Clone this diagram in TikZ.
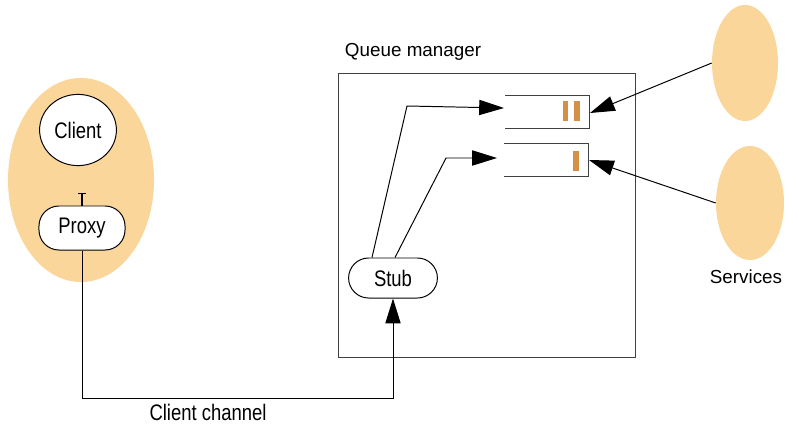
\documentclass[tikz,border=0pt]{standalone}
\usepackage{fontspec}
\setmainfont{Liberation Sans}
\newfontfamily\condfont[FakeStretch=0.82]{Liberation Sans}
\usepackage{xcolor}
\usepackage{tikz}
\usetikzlibrary{shapes,arrows.meta,positioning,calc}
\definecolor{peach}{RGB}{250,214,155}
\definecolor{qmark}{RGB}{212,145,70}

\begin{document}
\begin{tikzpicture}[x=0.025cm,y=-0.025cm,
    blob/.style={ellipse,fill=peach,draw=none,inner sep=0pt},
    pill/.style={draw,fill=white,line width=0.7pt,rounded corners=0.5cm,inner sep=0pt,font=\condfont\fontsize{16}{19}\selectfont},
    wire/.style={line width=0.7pt},
    bigarrow/.style={wire,-{Triangle[length=0.62cm,width=0.38cm]}},
    tag/.style={font=\fontsize{13.4}{16}\selectfont}]
    \useasboundingbox (0,0) rectangle (799,439);
    \node[blob,minimum width=3.65cm,minimum height=5.1cm] (user) at (81,180) {};
    \node[ellipse,draw,fill=white,line width=0.7pt,minimum width=1.92cm,minimum height=1.78cm,inner sep=0pt,font=\condfont\fontsize{16}{19}\selectfont] (client) at (78,130) {Client};
    \node[pill,minimum width=2.15cm,minimum height=1.1cm] (proxy) at (82,228) {Proxy};
    \coordinate (tbar) at ($(proxy.north)+(0,-13)$);
    \draw[line width=1pt,{Bar[width=0.2cm]}-] (tbar) -- (proxy.north);
    \node[draw=black!75,line width=0.7pt,minimum width=7.4cm,minimum height=7.08cm,inner sep=0pt] (qm) at (487,215.5) {};
    \node[tag,anchor=base west] (qmname) at (340,57) {Queue manager};
    \node[pill,minimum width=2.22cm,minimum height=1cm] (stub) at (393,278) {Stub};
    \coordinate (q1in) at (504,108);
    \coordinate (q1out) at (590,113);
    \coordinate (q2in) at (497,158);
    \coordinate (q2out) at (589,160);
    \draw[wire,draw=black!75] (505,95) -| (589,128) -- (505,128);
    \fill[qmark] (563,101) rectangle (568,121);
    \fill[qmark] (574,101) rectangle (580,121);
    \draw[wire,draw=black!75] (504,143) -| (588,176) -- (504,176);
    \fill[qmark] (573,151) rectangle (579,171);
    \draw[bigarrow] ($(stub.north)+(-21,0)$) -- (407,106) -- (q1in);
    \draw[bigarrow] ($(stub.north)+(2,0)$) -- (446,158) -- (q2in);
    \node[blob,minimum width=1.65cm,minimum height=2.9cm] (svc1) at (745,63) {};
    \node[blob,minimum width=1.7cm,minimum height=2.85cm] (svc2) at (750,203) {};
    \node[tag] (svcname) at (746,277) {Services};
    \draw[bigarrow] (svc1.west) -- (q1out);
    \draw[bigarrow] (svc2.west) -- (q2out);
    \draw[bigarrow] (proxy.south) |- ($(stub.south)+(0,100)$) -- (stub.south);
    \node[tag,font=\condfont\fontsize{16}{19}\selectfont] (chname) at (208,412) {Client channel};
\end{tikzpicture}
\end{document}
